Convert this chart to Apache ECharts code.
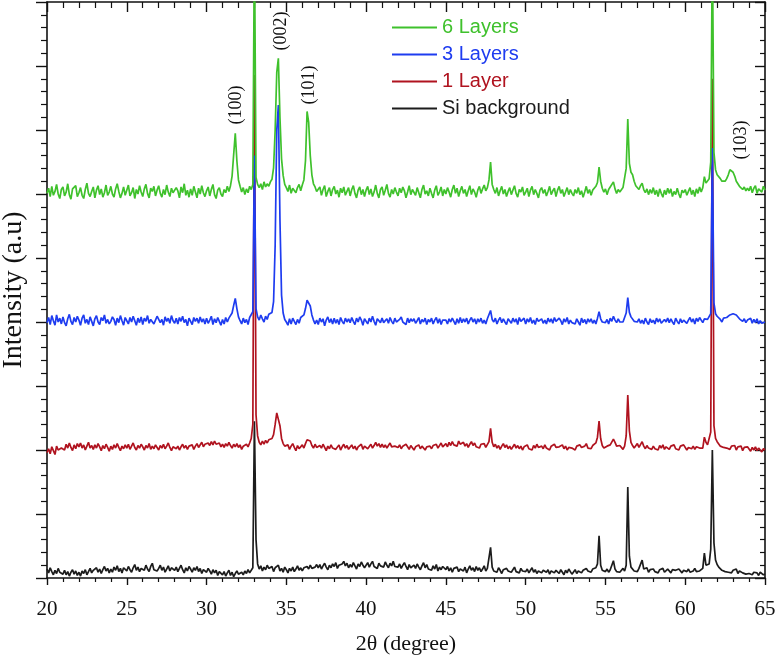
<!DOCTYPE html>
<html>
<head>
<meta charset="utf-8">
<script src="https://cdn.jsdelivr.net/npm/echarts@6/dist/echarts.min.js"></script>
<style>
html,body{margin:0;padding:0;background:#fff;}
#chart{width:777px;height:656px;}
</style>
</head>
<body>
<div id="chart"></div>
<script>
// 2θ grid: 20.0 .. 65.0 in 0.1° steps (451 points); intensities in offset display units (axis 0..900)
const angleStart = 20;
const angleStep = 0.1;
const seriesNames = ['6 Layers', '3 Layers', '1 Layer', 'Si background'];
const peakLabels = ['(100)', '(002)', '(101)', '(103)'];

const layer6 = [
601,609,596,612,598,604,615,600,593,607,
611,597,603,616,599,592,608,605,613,596,
602,610,598,593,607,617,601,596,604,611,
594,606,613,599,608,595,602,614,598,603,
612,600,595,608,616,604,594,601,611,598,
606,614,597,602,610,593,607,600,613,603,
596,608,615,601,594,609,604,612,597,606,
613,601,595,607,599,614,603,596,609,602,
599,610,605,594,611,602,616,598,606,595,
608,598,612,603,594,609,600,613,602,596,
605,611,597,607,615,599,593,606,610,600,
596,607,602,612,604,613,628,662,695,652,
622,612,603,610,599,608,602,612,607,615,
1000,626,615,610,616,607,619,611,616,612,
619,623,641,700,790,812,720,655,629,615,
610,604,614,601,609,612,602,610,615,605,
614,622,652,729,712,660,630,616,611,604,
601,611,598,607,613,596,604,610,597,607,
612,600,606,595,609,602,611,598,604,610,
597,607,613,601,594,606,611,599,607,596,
606,612,599,608,596,603,614,601,594,607,
611,598,606,615,601,595,607,600,610,603,
597,609,602,611,605,594,603,613,599,607,
606,598,610,602,594,607,614,600,605,597,
609,601,594,606,613,598,603,611,597,607,
600,610,603,595,607,614,601,609,596,605,
612,601,607,596,605,613,599,608,603,595,
606,612,601,608,614,605,610,622,650,615,
607,601,610,597,605,612,600,607,596,604,
610,599,606,613,601,595,607,603,611,598,
603,609,596,606,612,599,607,601,594,606,
610,601,607,597,604,612,599,605,609,596,
606,612,601,607,596,603,610,599,607,601,
597,607,601,610,599,605,595,603,612,601,
607,598,606,603,612,618,642,620,609,603,
608,599,607,611,613,619,608,601,607,603,
606,610,612,640,717,648,634,630,620,613,
611,607,613,617,607,602,608,599,607,601,
610,599,606,596,608,601,595,606,599,609,
601,608,596,604,599,609,600,594,606,602,
607,598,604,610,599,606,596,608,601,611,
603,610,627,617,619,624,650,1000,665,638,
630,627,624,620,618,620,624,630,638,641,
634,628,620,616,612,610,607,611,605,609,
605,612,602,609,613,601,608,611,603,612,
606];

const layer3 = [
399,407,396,410,402,395,411,400,406,397,
408,399,394,405,412,401,396,407,400,409,
403,395,406,411,398,404,396,408,401,394,
405,410,400,396,407,402,411,398,404,397,
401,408,404,395,406,399,410,402,395,407,
404,397,407,400,409,402,395,406,399,408,
396,406,401,410,398,404,407,397,403,409,
407,399,404,395,408,401,406,398,410,402,
398,406,397,407,401,409,399,404,394,406,
403,396,407,401,406,398,408,400,405,397,
406,398,403,409,396,405,399,407,401,395,
404,397,407,400,406,403,414,426,437,421,
408,402,397,406,399,404,396,407,410,416,
660,421,408,403,411,405,400,409,404,412,
409,415,432,520,700,739,560,442,414,404,
400,395,405,397,406,401,396,404,398,407,
404,411,421,434,436,425,411,403,397,403,
396,406,400,405,394,403,408,399,405,397,
406,398,404,396,407,401,397,406,400,405,
399,407,401,396,406,400,408,403,395,405,
403,397,406,400,409,401,395,405,407,399,
406,399,396,405,398,407,401,397,406,400,
397,404,408,400,403,396,406,399,405,401,
405,398,402,407,397,404,400,406,396,404,
400,406,397,403,407,398,405,396,403,406,
403,397,405,400,406,401,396,405,398,407,
399,405,400,406,397,403,407,400,405,397,
405,400,406,398,403,397,405,408,418,404,
400,406,397,403,407,399,405,400,396,405,
403,398,406,400,405,396,407,401,398,406,
397,405,400,407,398,403,396,406,401,399,
405,398,403,397,406,400,405,398,407,401,
399,406,402,396,405,400,407,397,403,399,
402,397,405,400,395,406,399,404,397,405,
400,405,398,403,397,406,416,405,400,403,
399,404,397,406,401,409,403,399,405,400,
403,400,407,414,438,415,408,405,401,404,
400,405,398,403,397,406,400,396,405,399,
403,397,406,400,405,398,395,404,400,406,
399,405,400,396,406,401,397,405,399,403,
405,398,403,407,400,405,397,406,401,407,
403,399,405,408,404,406,413,672,430,413,
409,406,404,400,406,403,407,409,411,414,
413,415,411,408,405,407,401,405,399,403,
401,406,398,404,399,405,397,402,398,401,
400];

const layer1 = [
196,202,194,205,199,193,206,200,197,203,
206,200,209,203,211,204,199,208,202,210,
205,211,203,208,200,206,212,203,207,201,
208,203,210,205,199,207,202,209,204,198,
206,201,208,203,210,204,199,206,202,208,
203,209,201,206,211,204,200,207,203,209,
205,200,207,203,210,201,206,202,208,204,
200,207,203,209,202,206,211,204,199,205,
207,202,206,200,205,209,203,207,201,206,
203,208,201,206,210,204,207,212,205,209,
206,211,207,213,208,214,209,206,211,205,
209,204,210,206,212,207,203,209,205,210,
204,208,201,206,203,209,205,211,218,240,
786,255,222,212,208,214,209,215,211,216,
213,218,224,240,258,261,238,218,210,206,
203,208,201,206,210,204,199,207,202,205,
208,203,210,216,219,214,207,203,209,204,
201,207,203,209,204,199,206,202,208,203,
206,201,204,208,200,205,209,203,207,201,
204,208,202,206,200,205,203,209,201,206,
207,202,205,209,203,207,212,206,210,204,
209,204,208,203,207,211,205,202,206,203,
204,208,202,206,203,209,205,201,207,204,
200,205,203,208,202,206,204,200,205,203,
206,202,207,204,209,203,206,211,205,208,
210,205,212,207,213,208,211,206,214,209,
207,212,206,210,204,209,213,207,211,205,
208,203,209,206,210,204,207,213,234,212,
205,209,203,207,201,206,210,204,208,202,
206,201,205,209,203,207,202,206,200,205,
203,208,202,205,200,207,203,209,204,201,
206,202,208,203,205,200,206,203,209,204,
201,205,203,208,202,206,200,204,207,203,
205,200,206,203,208,204,201,206,210,203,
206,202,207,204,211,220,245,218,207,203,
201,206,203,208,211,217,212,206,203,207,
204,201,206,222,286,230,212,207,203,206,
210,204,207,213,206,202,207,203,205,201,
206,202,205,200,207,203,208,201,205,203,
201,206,203,208,202,205,200,206,203,208,
205,200,204,207,202,206,201,205,208,203,
206,203,220,212,208,210,228,780,238,218,
213,210,206,208,204,207,203,205,201,206,
203,207,200,205,202,206,199,204,201,205,
202,198,204,200,205,199,203,201,197,202,
200];

const siBackground = [
14,8,16,10,5,12,7,15,9,11,
6,12,5,10,3,9,13,6,11,4,
9,3,11,7,13,5,10,15,8,12,
10,16,9,14,7,13,18,11,15,8,
14,9,17,12,19,10,15,8,16,13,
11,18,13,9,16,21,12,17,10,15,
17,12,20,14,10,18,23,13,16,11,
15,20,12,17,9,14,19,11,16,13,
12,17,10,15,20,13,8,16,11,18,
14,9,16,12,18,10,15,7,13,11,
9,15,11,6,13,8,12,4,10,7,
5,10,3,8,12,4,9,2,7,11,
6,3,9,5,11,7,13,8,10,16,
245,60,22,14,19,11,17,13,20,15,
12,18,10,16,13,20,11,15,9,17,
13,8,15,11,17,10,14,19,12,16,
11,16,13,18,14,20,15,12,17,21,
16,21,14,19,23,17,13,20,16,22,
18,24,15,20,17,22,26,19,23,16,
21,17,24,19,14,22,18,25,20,16,
19,24,17,22,26,18,21,15,23,19,
22,17,25,20,16,23,19,26,18,21,
17,22,15,20,24,18,13,21,16,19,
20,15,22,17,13,19,24,16,21,14,
16,12,19,14,21,11,17,13,18,15,
13,18,11,16,9,15,12,17,10,14,
15,11,17,8,14,19,12,16,10,18,
12,16,10,14,19,11,15,13,48,17,
11,14,9,16,12,7,13,10,15,11,
14,9,12,17,10,13,8,15,11,12,
10,14,8,12,16,9,13,7,11,14,
8,12,15,9,13,6,11,14,8,12,
11,7,13,9,5,12,8,14,10,6,
9,13,7,11,14,8,12,10,15,11,
13,9,14,11,16,22,66,20,12,15,
10,14,9,13,11,27,14,10,13,9,
12,15,11,20,142,34,17,14,11,13,
10,15,12,28,14,11,16,9,13,10,
14,10,12,8,13,11,15,9,12,14,
11,8,13,10,12,9,14,11,8,12,
13,10,14,9,12,11,15,10,13,11,
12,15,39,20,17,22,45,200,55,28,
21,17,15,12,14,10,13,9,11,8,
12,9,14,7,11,13,8,10,6,9,
7,10,5,9,6,8,4,9,7,5,
6];

const colors = {
  '6 Layers': '#3fc12c',
  '3 Layers': '#1e3cf0',
  '1 Layer': '#b0131f',
  'Si background': '#1c1c1c'
};

function pairs(vals) {
  return vals.map((v, i) => [+(angleStart + i * angleStep).toFixed(1), v]);
}

const chart = echarts.init(document.getElementById('chart'), null, {renderer: 'canvas'});
const serif = 'Liberation Serif, Times New Roman, serif';
const sans = 'Liberation Sans, Arial, sans-serif';

const drawOrder = [
  ['Si background', siBackground],
  ['1 Layer', layer1],
  ['3 Layers', layer3],
  ['6 Layers', layer6]
];

const axisLineStyle = {color: '#111', width: 1.6};

const option = {
  animation: false,
  backgroundColor: '#fff',
  grid: {left: 47, right: 12, top: 2, bottom: 78, containLabel: false, outerBoundsMode: 'none'},
  legend: {
    orient: 'vertical',
    left: 392, top: 17,
    padding: 0,
    itemGap: 6,
    itemWidth: 45, itemHeight: 2,
    icon: 'rect',
    selectedMode: false,
    textStyle: {fontFamily: sans, fontSize: 20, lineHeight: 21},
    data: seriesNames.map(n => ({name: n, textStyle: {color: colors[n]}}))
  },
  xAxis: [
    {
      type: 'value', min: 20, max: 65, interval: 5, position: 'bottom',
      name: '2θ (degree)', nameLocation: 'middle', nameGap: 55,
      nameTextStyle: {fontFamily: serif, fontSize: 22, color: '#111'},
      axisLine: {onZero: false, lineStyle: axisLineStyle},
      axisTick: {show: true, inside: false, length: 7, lineStyle: {color: '#111', width: 1.4}},
      minorTick: {show: true, splitNumber: 5, length: 4, lineStyle: {color: '#111', width: 1.2}},
      axisLabel: {fontFamily: serif, fontSize: 21, color: '#111', margin: 21},
      splitLine: {show: false}
    },
    {
      type: 'value', min: 20, max: 65, interval: 5, position: 'top',
      axisLine: {onZero: false, lineStyle: axisLineStyle},
      axisTick: {show: true, inside: true, length: 10, lineStyle: {color: '#111', width: 1.4}},
      minorTick: {show: true, splitNumber: 5, length: 6, lineStyle: {color: '#111', width: 1.2}},
      axisLabel: {show: false},
      splitLine: {show: false}
    }
  ],
  yAxis: [
    {
      type: 'value', min: 0, max: 900, interval: 100, position: 'left',
      name: 'Intensity (a.u)', nameLocation: 'middle', nameGap: 19,
      nameTextStyle: {fontFamily: serif, fontSize: 28, color: '#111'},
      axisLine: {show: true, onZero: false, lineStyle: axisLineStyle},
      axisTick: {show: true, inside: false, length: 11, lineStyle: {color: '#111', width: 1.4}},
      minorTick: {show: true, splitNumber: 5, length: 6, lineStyle: {color: '#111', width: 1.2}},
      axisLabel: {show: false},
      splitLine: {show: false}
    },
    {
      type: 'value', min: 0, max: 900, interval: 100, position: 'right',
      axisLine: {show: true, onZero: false, lineStyle: axisLineStyle},
      axisTick: {show: true, inside: true, length: 10, lineStyle: {color: '#111', width: 1.4}},
      minorTick: {show: true, splitNumber: 5, length: 5, lineStyle: {color: '#111', width: 1.2}},
      axisLabel: {show: false},
      splitLine: {show: false}
    }
  ],
  series: drawOrder.map(([name, vals]) => ({
    name: name,
    type: 'line',
    xAxisIndex: 0, yAxisIndex: 0,
    data: pairs(vals),
    symbol: 'none',
    showSymbol: false,
    clip: true,
    color: colors[name],
    lineStyle: {color: colors[name], width: 1.7},
    emphasis: {disabled: true}
  })),
  graphic: [
    {type: 'text', x: 236, y: 105, rotation: Math.PI / 2,
     style: {text: peakLabels[0], font: '18px ' + serif, fill: '#111', align: 'center', verticalAlign: 'middle'}},
    {type: 'text', x: 281, y: 31, rotation: Math.PI / 2,
     style: {text: peakLabels[1], font: '18px ' + serif, fill: '#111', align: 'center', verticalAlign: 'middle'}},
    {type: 'text', x: 309, y: 85, rotation: Math.PI / 2,
     style: {text: peakLabels[2], font: '18px ' + serif, fill: '#111', align: 'center', verticalAlign: 'middle'}},
    {type: 'text', x: 741, y: 140, rotation: Math.PI / 2,
     style: {text: peakLabels[3], font: '18px ' + serif, fill: '#111', align: 'center', verticalAlign: 'middle'}}
  ]
};
chart.setOption(option);
</script>
</body>
</html>
